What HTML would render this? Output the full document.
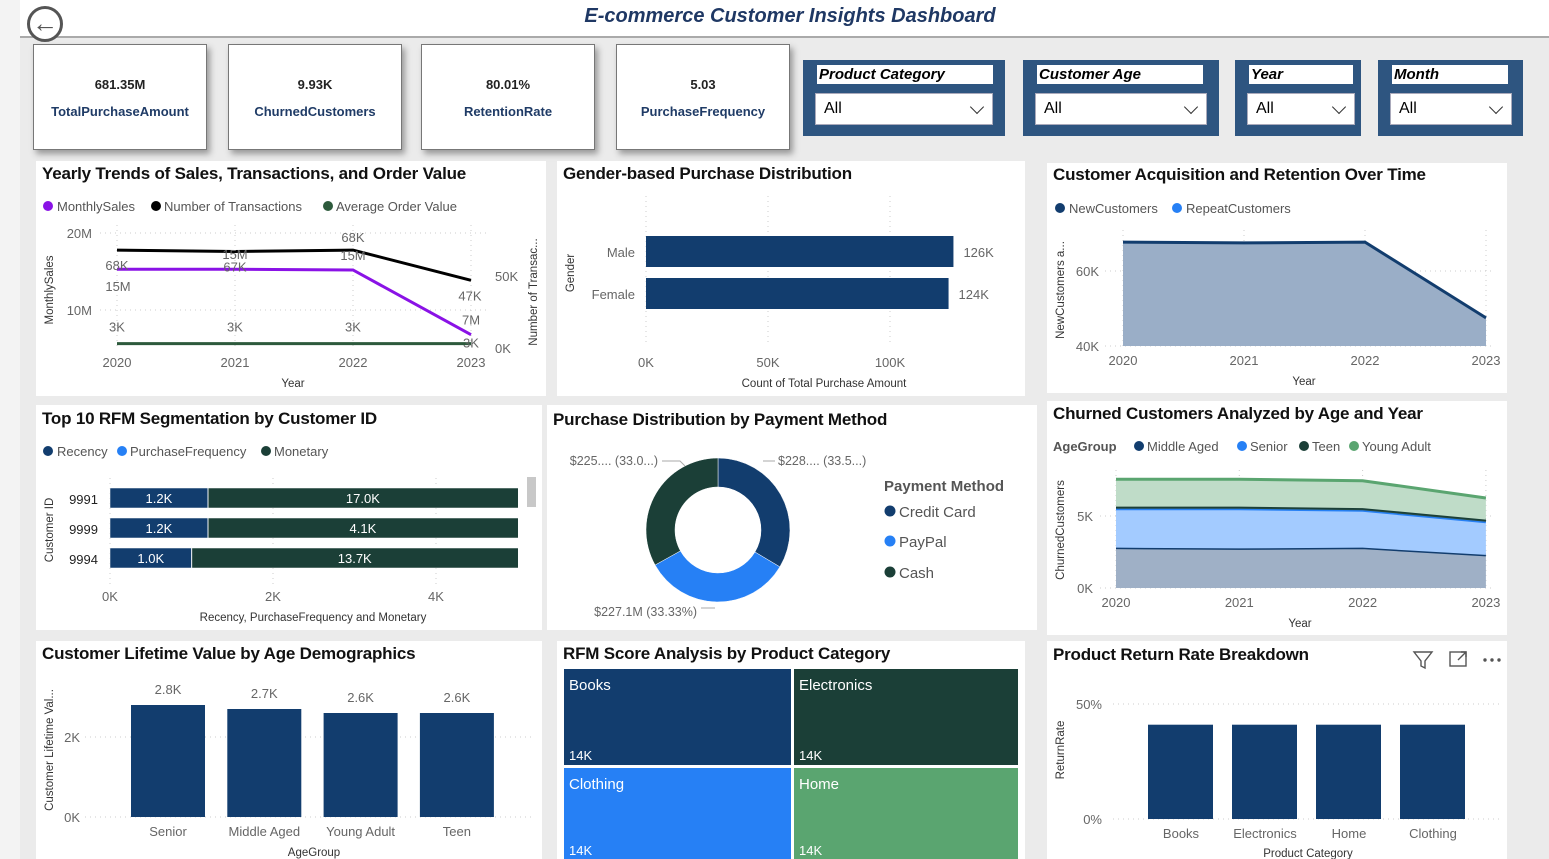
<!DOCTYPE html>
<html><head><meta charset="utf-8">
<style>
html,body{margin:0;padding:0;width:1549px;height:859px;overflow:hidden;background:#ebebeb;font-family:"Liberation Sans",sans-serif;}
svg{position:absolute;left:0;top:0}
.t{font-family:"Liberation Sans Narrow","Liberation Sans",sans-serif;font-weight:bold;font-size:17px;letter-spacing:-0.2px;fill:#111}
.ax{font-size:13px;fill:#666}
.lg{font-size:13px;fill:#555}
.at{font-size:11.5px;fill:#333}
.card{position:absolute;top:44px;width:172px;height:104px;background:#fff;border:1px solid #777;box-shadow:3px 4px 6px #999;text-align:center}
.card .v{margin-top:32px;font-size:13px;font-weight:bold;color:#222}
.card .l{margin-top:12px;font-size:13px;font-weight:bold;color:#1f3b66}
.flt{position:absolute;top:60px;height:76px;background:#2e5580}
.flt .h{position:absolute;left:14px;top:5px;height:19px;background:#fff;font:italic bold 15px "Liberation Sans",sans-serif;color:#000;line-height:19px;padding-left:2px;box-sizing:border-box}
.flt .d{position:absolute;left:12px;top:33px;height:32px;background:#fff;border:1px solid #aab;box-sizing:border-box;font-size:16px;line-height:30px;padding-left:8px;color:#000}
.chev{position:absolute;right:10px;top:8px;width:9px;height:9px;border-right:1.5px solid #333;border-bottom:1.5px solid #333;transform:rotate(45deg)}
</style></head><body>
<div style="position:absolute;left:20px;top:0;width:1529px;height:36px;background:#fff;border-bottom:2px solid #aaa"></div>
<div style="position:absolute;left:0;top:0;width:20px;height:859px;background:#f3f3f3"></div>
<div style="position:absolute;left:540px;top:5px;width:500px;text-align:center;font:italic bold 20px 'Liberation Sans',sans-serif;color:#1f3864">E-commerce Customer Insights Dashboard</div>
<div style="position:absolute;left:27px;top:6px;width:30px;height:30px;border:3px solid #555;border-radius:50%;background:#fff;text-align:center;font-size:26px;line-height:28px;color:#555;font-weight:bold">&#8592;</div>

<div class="card" style="left:33px"><div class="v">681.35M</div><div class="l">TotalPurchaseAmount</div></div>
<div class="card" style="left:228px"><div class="v">9.93K</div><div class="l">ChurnedCustomers</div></div>
<div class="card" style="left:421px"><div class="v">80.01%</div><div class="l">RetentionRate</div></div>
<div class="card" style="left:616px"><div class="v">5.03</div><div class="l">PurchaseFrequency</div></div>

<div class="flt" style="left:803px;width:202px"><div class="h" style="width:176px">Product Category</div><div class="d" style="width:178px">All<span class="chev"></span></div></div>
<div class="flt" style="left:1023px;width:196px"><div class="h" style="width:166px">Customer Age</div><div class="d" style="width:172px">All<span class="chev"></span></div></div>
<div class="flt" style="left:1235px;width:126px"><div class="h" style="width:104px">Year</div><div class="d" style="width:108px">All<span class="chev"></span></div></div>
<div class="flt" style="left:1378px;width:145px"><div class="h" style="width:116px">Month</div><div class="d" style="width:122px">All<span class="chev"></span></div></div>

<svg id="s" width="1549" height="859" style="top:0">
<defs><clipPath id="rfmclip"><rect x="108" y="480" width="410" height="100"/></clipPath></defs>
<g fill="#fff">
<rect x="36" y="161" width="510" height="235"/><rect x="557" y="161" width="468" height="235"/><rect x="1047" y="163" width="460" height="230"/>
<rect x="36" y="405" width="506" height="225"/><rect x="547" y="405" width="490" height="225"/><rect x="1047" y="401" width="460" height="234"/>
<rect x="36" y="641" width="506" height="218"/><rect x="557" y="641" width="468" height="218"/><rect x="1047" y="641" width="460" height="218"/>
</g>
<g class="t">
<text x="42" y="179">Yearly Trends of Sales, Transactions, and Order Value</text>
<text x="563" y="179">Gender-based Purchase Distribution</text>
<text x="1053" y="180">Customer Acquisition and Retention Over Time</text>
<text x="42" y="424">Top 10 RFM Segmentation by Customer ID</text>
<text x="553" y="425">Purchase Distribution by Payment Method</text>
<text x="1053" y="419">Churned Customers Analyzed by Age and Year</text>
<text x="42" y="659">Customer Lifetime Value by Age Demographics</text>
<text x="563" y="659">RFM Score Analysis by Product Category</text>
<text x="1053" y="660">Product Return Rate Breakdown</text>
</g>
<g class="lg">
<g><circle cx="48" cy="206" r="5" fill="#8a12e6"/><text x="57" y="211">MonthlySales</text><circle cx="156" cy="206" r="5" fill="#000"/><text x="164" y="211">Number of Transactions</text><circle cx="328" cy="206" r="5" fill="#2d5a3c"/><text x="336" y="211">Average Order Value</text></g>
<g><circle cx="1060" cy="208" r="5" fill="#123d6e"/><text x="1069" y="213">NewCustomers</text><circle cx="1177" cy="208" r="5" fill="#2680f5"/><text x="1186" y="213">RepeatCustomers</text></g>
<g><circle cx="48" cy="451" r="5" fill="#123d6e"/><text x="57" y="456">Recency</text><circle cx="122" cy="451" r="5" fill="#2680f5"/><text x="130" y="456">PurchaseFrequency</text><circle cx="266" cy="451" r="5" fill="#1b3f37"/><text x="274" y="456">Monetary</text></g>
<g><text x="1053" y="451" font-weight="bold" fill="#555">AgeGroup</text><circle cx="1139" cy="446" r="5" fill="#123d6e"/><text x="1147" y="451">Middle Aged</text><circle cx="1242" cy="446" r="5" fill="#2680f5"/><text x="1250" y="451">Senior</text><circle cx="1304" cy="446" r="5" fill="#1b3f37"/><text x="1312" y="451">Teen</text><circle cx="1354" cy="446" r="5" fill="#5aa570"/><text x="1362" y="451">Young Adult</text></g>
<g font-size="15"><text x="884" y="491" font-weight="bold" fill="#555">Payment Method</text><circle cx="890" cy="511" r="5.5" fill="#123d6e"/><text x="899" y="517">Credit Card</text><circle cx="890" cy="541" r="5.5" fill="#2680f5"/><text x="899" y="547">PayPal</text><circle cx="890" cy="572" r="5.5" fill="#1b3f37"/><text x="899" y="578">Cash</text></g>
</g>
<g class="at">
<text x="293" y="387" text-anchor="middle">Year</text>
<text transform="translate(53,290) rotate(-90)" text-anchor="middle">MonthlySales</text>
<text transform="translate(537,292) rotate(-90)" text-anchor="middle">Number of Transac...</text>
<text x="824" y="387" text-anchor="middle">Count of Total Purchase Amount</text>
<text transform="translate(574,273) rotate(-90)" text-anchor="middle">Gender</text>
<text x="1304" y="385" text-anchor="middle">Year</text>
<text transform="translate(1064,290) rotate(-90)" text-anchor="middle">NewCustomers a...</text>
<text x="313" y="621" text-anchor="middle">Recency, PurchaseFrequency and Monetary</text>
<text transform="translate(53,530) rotate(-90)" text-anchor="middle">Customer ID</text>
<text x="1300" y="627" text-anchor="middle">Year</text>
<text transform="translate(1064,530) rotate(-90)" text-anchor="middle">ChurnedCustomers</text>
<text x="314" y="856" text-anchor="middle">AgeGroup</text>
<text transform="translate(53,750) rotate(-90)" text-anchor="middle">Customer Lifetime Val...</text>
<text x="1308" y="857" text-anchor="middle">Product Category</text>
<text transform="translate(1064,750) rotate(-90)" text-anchor="middle">ReturnRate</text>
</g>
<g stroke="#555" fill="none" stroke-width="1.4">
<path d="M1414 652 L1432 652 L1425 661 L1425 668 L1421 666 L1421 661 Z"/>
<rect x="1450" y="652" width="16" height="14"/><path d="M1458 660 L1466 652 M1461 652 L1466 652 L1466 657"/>
<circle cx="1485" cy="660" r="1" fill="#555"/><circle cx="1492" cy="660" r="1" fill="#555"/><circle cx="1499" cy="660" r="1" fill="#555"/>
</g>
<rect x="527" y="477" width="9" height="30" fill="#c8c8c8"/>
<g id="g"></g>
</svg>

<script>
const years=['2020','2021','2022','2023'];
const sales=[15.3,15.3,15.2,6.8];
const salesLbl=['15M','15M','15M','7M'];
const trans=[68,67,68,47];
const transLbl=['68K','67K','68K','47K'];
const aov=[3,3,3,3];
const aovLbl=['3K','3K','3K','3K'];
const genders=['Male','Female'];
const genderVals=[126,124];
const genderLbl=['126K','124K'];
const newCust=[67.7,67.5,67.7,47.5];
const rfmIds=['9991','9999','9994'];
const recency=[1.2,1.2,1.0];
const frequency=[0.005,0.005,0.005];
const monetary=[17.0,4.1,13.7];
const payNames=['Credit Card','PayPal','Cash'];
const payVals=[228.4,227.1,225.2];
const payLbl=['$228.... (33.5...)','$227.1M (33.33%)','$225.... (33.0...)'];
const churnMA=[2.8,2.75,2.8,2.3];
const churnSenior=[2.7,2.75,2.6,2.3];
const churnTeen=[0.15,0.15,0.15,0.15];
const churnYA=[1.9,1.9,1.9,1.5];
const ageGroups=['Senior','Middle Aged','Young Adult','Teen'];
const clvVals=[2.8,2.7,2.6,2.6];
const clvLbl=['2.8K','2.7K','2.6K','2.6K'];
const treeCats=['Books','Electronics','Clothing','Home'];
const treeVals=[14,14,14,14];
const retCats=['Books','Electronics','Home','Clothing'];
const retVals=[41,41,41,41];

const NS='http://www.w3.org/2000/svg', G=document.getElementById('g');
function el(tag,a,txt){const e=document.createElementNS(NS,tag);for(const k in a)e.setAttribute(k,a[k]);if(txt!==undefined)e.textContent=txt;G.appendChild(e);return e;}
function grid(x1,y1,x2,y2){const e=el('line',{x1:x1,y1:y1,x2:x2,y2:y2,stroke:'#ccc','stroke-dasharray':'1 4'});

}
function lbl(x,y,t,anchor,fill,size){const e=el('text',{x:x,y:y,'text-anchor':anchor||'middle',fill:fill||'#666','font-size':size||13},t);

return e;}

const xYr=i=>117+i*118, ySales=v=>387-v*7.7, yTr=v=>348-v*1.44;
[20,10].forEach(v=>{grid(100,ySales(v),490,ySales(v));lbl(92,ySales(v)+5,v+'M','end');});
[50,0].forEach(v=>{lbl(495,yTr(v)+5,v+'K','start');});
years.forEach((y,i)=>{grid(xYr(i),225,xYr(i),348);lbl(xYr(i),367,y);});
function line(xs,ys,vals,col,w,name){const p=vals.map((v,i)=>(i?'L':'M')+xs(i)+' '+ys(v)).join(' ');
const e=el('path',{d:p,fill:'none',stroke:col,'stroke-width':w});

}
line(xYr,yTr,aov,'#2d5a3c',3,'aov-line');
line(xYr,yTr,trans,'#000',3,'transactions-line');
line(xYr,ySales,sales,'#8a12e6',3,'sales-line');
trans.forEach((v,i)=>lbl(xYr(i)+(i==3?-1:0),yTr(v)+(i==2?-8:20),transLbl[i]));
sales.forEach((v,i)=>lbl(xYr(i)+(i==0?1:0),ySales(v)+(i==0?22:-10),salesLbl[i]));
aov.forEach((v,i)=>lbl(xYr(i),yTr(v)-12+(i==3?16:0),aovLbl[i]));

const xG=v=>646+v*2.44;
[0,50,100].forEach(v=>{grid(xG(v),196,xG(v),345);lbl(xG(v),367,v+'K');});
genders.forEach((g,i)=>{const y=236+i*42;
const b=el('rect',{x:xG(0),y:y,width:xG(genderVals[i])-xG(0),height:31,fill:'#123d6e'});


lbl(635,y+21,g,'end');lbl(xG(genderVals[i])+10,y+21,genderLbl[i],'start');});

const xA=i=>1123+i*121, yA=v=>346-(v-40)*3.75;
[60,40].forEach(v=>{grid(1105,yA(v),1495,yA(v));lbl(1099,yA(v)+5,v+'K','end');});
years.forEach((y,i)=>{grid(xA(i),230,xA(i),346);lbl(xA(i),365,y);});
{const d='M'+xA(0)+' '+yA(40)+' '+newCust.map((v,i)=>'L'+xA(i)+' '+yA(v)).join(' ')+' L'+xA(3)+' '+yA(40)+' Z';
const a=el('path',{d:d,fill:'#9aaec7'});

}
line(xA,yA,newCust,'#123d6e',3,'new-customers-line');

const xR=v=>110+v*81.5;
[0,2,4].forEach(v=>{grid(xR(v),478,xR(v),585);lbl(xR(v),601,v+'K');});
rfmIds.forEach((id,i)=>{const y=488+i*30;lbl(98,y+16,id,'end','#222');
let x0=xR(0);[[recency,'#123d6e','recency-bar'],[frequency,'#2680f5','frequency-bar'],[monetary,'#1b3f37','monetary-bar']].forEach(s=>{
const w=s[0][i]*81.5;const r=el('rect',{x:x0,y:y,width:w,height:20,fill:s[1],stroke:'#fff','stroke-width':0.5,'clip-path':'url(#rfmclip)'});


x0+=w;});
const rx=xR(recency[i]);lbl((xR(0)+rx)/2,y+15,recency[i].toFixed(1)+'K','middle','#fff');
lbl((rx+518)/2,y+15,monetary[i].toFixed(1)+'K','middle','#fff');});

{const cx=718,cy=530,R=72,r=43,tot=payVals.reduce((a,b)=>a+b,0),cols=['#123d6e','#2680f5','#1b3f37'];let a0=0;
payVals.forEach((v,i)=>{const a1=a0+v/tot*2*Math.PI;const P=(rad,a)=>[cx+rad*Math.sin(a),cy-rad*Math.cos(a)];
const [x1,y1]=P(R,a0),[x2,y2]=P(R,a1),[x3,y3]=P(r,a1),[x4,y4]=P(r,a0);const lg=(a1-a0)>Math.PI?1:0;
const s=el('path',{d:`M${x1} ${y1} A${R} ${R} 0 ${lg} 1 ${x2} ${y2} L${x3} ${y3} A${r} ${r} 0 ${lg} 0 ${x4} ${y4} Z`,fill:cols[i],stroke:'#fff','stroke-width':0.5});


a0=a1;});
lbl(778,465,payLbl[0],'start','#666',12.5);lbl(697,616,payLbl[1],'end','#666',12.5);lbl(658,465,payLbl[2],'end','#666',12.5);
['M763 461 L775 461','M701 608 L715 608','M662 461 L680 461 L685 466'].forEach(d=>{const l=el('path',{d:d,stroke:'#aaa',fill:'none'});

});}

const xC=i=>1116+i*123.3, yC=v=>588-v*14.4;
[5,0].forEach(v=>{grid(1100,yC(v),1495,yC(v));lbl(1093,yC(v)+5,v+'K','end');});
years.forEach((y,i)=>{grid(xC(i),470,xC(i),588);lbl(xC(i),607,y);});
{let base=[0,0,0,0];[[churnMA,'#9fb0c6','#123d6e','middle-aged'],[churnSenior,'#a3cbff','#2680f5','senior'],[churnTeen,'#2b4f48','#1b3f37','teen'],[churnYA,'#bfdcc8','#5aa570','young-adult']].forEach(s=>{
const top=base.map((b,i)=>b+s[0][i]);
const d='M'+top.map((v,i)=>xC(i)+' '+yC(v)).join(' L')+' L'+base.map((v,i)=>xC(i)+' '+yC(v)).reverse().join(' L')+' Z';
const a=el('path',{d:d,fill:s[1]});


const l=el('path',{d:'M'+top.map((v,i)=>xC(i)+' '+yC(v)).join(' L'),fill:'none',stroke:s[2],'stroke-width':3});


base=top;});}

const xV=i=>131+i*96.3, yV=v=>817-v*40;
[2,0].forEach(v=>{grid(85,yV(v),535,yV(v));lbl(80,yV(v)+5,v+'K','end');});
ageGroups.forEach((g,i)=>{const b=el('rect',{x:xV(i),y:yV(clvVals[i]),width:74,height:yV(0)-yV(clvVals[i]),fill:'#123d6e'});


lbl(xV(i)+37,yV(clvVals[i])-11,clvLbl[i]);lbl(xV(i)+37,836,g);});

{const X0=564,Y0=669,W=454,H=192,tot=treeVals.reduce((a,b)=>a+b,0);
const c1=treeVals[0]+treeVals[2],w1=W*c1/tot,cols=['#123d6e','#1b3f37','#2680f5','#5aa570'];
treeCats.forEach((c,i)=>{const col=i%2,row=Math.floor(i/2);const cs=col?treeVals[1]+treeVals[3]:c1;
const x=X0+(col?w1+3:0),w=col?W-w1-3:w1,hTop=H*treeVals[col]/cs;
const y=Y0+(row?hTop+3:0),h=row?H-hTop-3:hTop;
const r=el('rect',{x:x,y:y,width:w,height:h,fill:cols[i]});


lbl(x+5,y+21,c,'start','#fff',15);lbl(x+5,Math.min(y+h-5,855),treeVals[i]+'K','start','#fff',13);});}

const xT=i=>1148+i*84, yT=v=>819-v*2.3;
[50,0].forEach(v=>{grid(1113,yT(v),1500,yT(v));lbl(1102,yT(v)+5,v+'%','end');});
retCats.forEach((c,i)=>{const b=el('rect',{x:xT(i),y:yT(retVals[i]),width:65,height:yT(0)-yT(retVals[i]),fill:'#123d6e'});


lbl(xT(i)+33,838,c);});
</script>
</body></html>
